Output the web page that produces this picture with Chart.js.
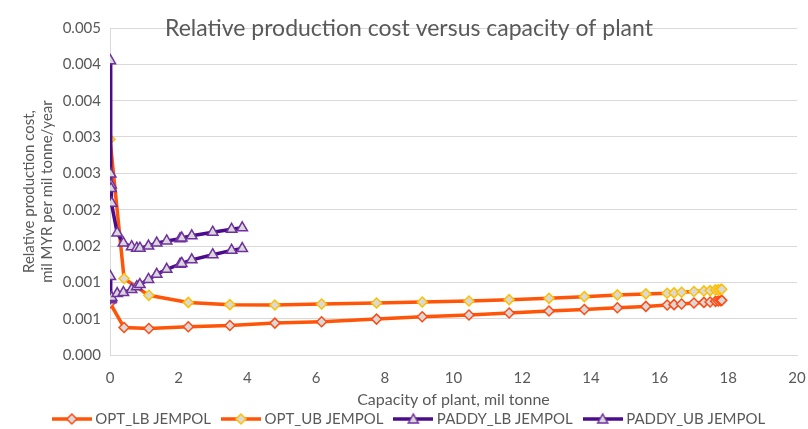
<!DOCTYPE html>
<html>
<head>
<meta charset="utf-8">
<script src="https://cdn.jsdelivr.net/npm/chart.js@4"></script>
<style>body{margin:0;background:#fff}</style>
</head>
<body>
<canvas id="chart" width="808" height="429"></canvas>
<script>
// capacity (mil tonne) and relative cost values
const optCap = [0, 0.41, 1.13, 2.28, 3.49, 4.80, 6.16, 7.76, 9.09, 10.45, 11.62, 12.78, 13.81, 14.77, 15.60, 16.22, 16.42, 16.64, 17.00, 17.29, 17.47, 17.63, 17.71, 17.78, 17.81];
const optLbCost = [0.000716, 0.000378, 0.000364, 0.000388, 0.000406, 0.000439, 0.000457, 0.000494, 0.000526, 0.00055, 0.000578, 0.000605, 0.000627, 0.000651, 0.000669, 0.000688, 0.000693, 0.000702, 0.000716, 0.000724, 0.00073, 0.000738, 0.000743, 0.000748, 0.000752];
const optUbCost = [0.00297, 0.001053, 0.000821, 0.000724, 0.000693, 0.000688, 0.000702, 0.000716, 0.00073, 0.000744, 0.000762, 0.00078, 0.000803, 0.000827, 0.000841, 0.000849, 0.000855, 0.000863, 0.000873, 0.000882, 0.000886, 0.000896, 0.000898, 0.0009, 0.000904];
const paddyCap = [0.01, 0.02, 0.03, 0.03, 0.05, 0.21, 0.39, 0.63, 0.78, 0.87, 1.12, 1.36, 1.65, 2.04, 2.09, 2.38, 2.99, 3.54, 3.85];
const paddyLbCost = [0.00108, 0.00076, 0.00077, 0.00078, 0.00079, 0.000845, 0.00086, 0.0009, 0.00094, 0.00097, 0.00104, 0.00111, 0.00118, 0.00125, 0.00126, 0.00131, 0.00138, 0.00144, 0.001465];
const paddyUbCost = [0.00405, 0.00249, 0.00234, 0.00229, 0.00209, 0.00168, 0.00154, 0.00149, 0.00147, 0.00147, 0.0015, 0.00154, 0.00157, 0.0016, 0.00161, 0.00164, 0.00169, 0.00173, 0.00175];
const seriesNames = ['OPT_LB JEMPOL', 'OPT_UB JEMPOL', 'PADDY_LB JEMPOL', 'PADDY_UB JEMPOL'];
const yTickLabels = ['0.000', '0.001', '0.001', '0.002', '0.002', '0.003', '0.003', '0.004', '0.004', '0.005'];

const FONT = 'Lato';
const GREY = '#595959';
const ORANGE = '#FF5508';
const PURPLE = '#4B0C8C';
const FILL = '#D9D9D9';

const pts = (xs, ys) => xs.map((x, i) => ({ x, y: ys[i] }));

// legend swatch: short line with the marker in the middle
function legendIcon(line, border, style) {
  const c = document.createElement('canvas');
  c.width = 40; c.height = 14;
  const g = c.getContext('2d');
  g.strokeStyle = line; g.lineWidth = 3.5;
  g.beginPath(); g.moveTo(0, 7); g.lineTo(40, 7); g.stroke();
  g.fillStyle = FILL; g.strokeStyle = border; g.lineWidth = 1.5;
  g.beginPath();
  if (style === 'rectRot') {
    g.moveTo(20, 2); g.lineTo(25, 7); g.lineTo(20, 12); g.lineTo(15, 7);
  } else {
    g.moveTo(20, 2); g.lineTo(25, 11); g.lineTo(15, 11);
  }
  g.closePath(); g.fill(); g.stroke();
  return c;
}

function series(label, data, line, border, style, order) {
  return {
    label, data, order,
    showLine: true,
    borderColor: line, borderWidth: 3.5,
    pointStyle: style,
    pointRadius: style === 'triangle' ? 6 : 5,
    pointBackgroundColor: FILL,
    pointBorderColor: border,
    pointBorderWidth: 1.5,
    icon: legendIcon(line, border, style),
  };
}

const titlePlugin = {
  id: 'plotTitle',
  afterDraw(chart) {
    const ctx = chart.ctx;
    ctx.save();
    ctx.font = `23px ${FONT}`;
    ctx.fillStyle = GREY;
    ctx.textAlign = 'center';
    ctx.fillText('Relative production cost versus capacity of plant', 409, 29);
    ctx.restore();
  }
};

new Chart(document.getElementById('chart'), {
  type: 'scatter',
  data: {
    datasets: [
      series(seriesNames[0], pts(optCap, optLbCost), ORANGE, '#FF4A12', 'rectRot', 4),
      series(seriesNames[1], pts(optCap, optUbCost), ORANGE, '#FFC000', 'rectRot', 3),
      series(seriesNames[2], pts(paddyCap, paddyLbCost), PURPLE, '#7030A0', 'triangle', 2),
      series(seriesNames[3], pts(paddyCap, paddyUbCost), PURPLE, '#7030A0', 'triangle', 1),
    ]
  },
  options: {
    responsive: false,
    animation: false,
    layout: { padding: { left: 24, right: 11, top: 28, bottom: -7.5 } },
    plugins: {
      tooltip: { enabled: false },
      legend: {
        position: 'bottom',
        labels: {
          font: { family: FONT, size: 15 },
          color: GREY,
          usePointStyle: true,
          pointStyleWidth: 32,
          padding: 14,
          generateLabels: (chart) => chart.data.datasets.map((ds, i) => ({
            text: ds.label, pointStyle: ds.icon, datasetIndex: i,
            fontColor: GREY, lineWidth: 0, strokeStyle: 'transparent', fillStyle: 'transparent',
          })),
        }
      }
    },
    scales: {
      x: {
        type: 'linear', min: 0, max: 20,
        ticks: { stepSize: 2, color: GREY, font: { family: FONT, size: 15 }, padding: 0 },
        grid: { display: false, drawTicks: true, tickLength: 14 },
        border: { display: true, color: '#D9D9D9' },
        title: { display: true, text: 'Capacity of plant, mil tonne', color: GREY, font: { family: FONT, size: 16 }, padding: { top: 0, bottom: -12 } },
        afterFit: (s) => { s.height = 42.5; },
      },
      y: {
        min: 0, max: 0.0045,
        ticks: { stepSize: 0.0005, color: GREY, font: { family: FONT, size: 15 }, padding: 9,
          callback: (v, i) => yTickLabels[i] },
        grid: { color: '#D9D9D9', drawTicks: false },
        border: { display: true, color: '#D9D9D9' },
        title: { display: true, text: ['Relative production cost,', 'mil MYR per mil tonne/year'], color: GREY, font: { family: FONT, size: 15 }, padding: { top: -4, bottom: 0 } },
        afterFit: (s) => { s.width = 86; },
      }
    }
  },
  plugins: [titlePlugin]
});
</script>
</body>
</html>
